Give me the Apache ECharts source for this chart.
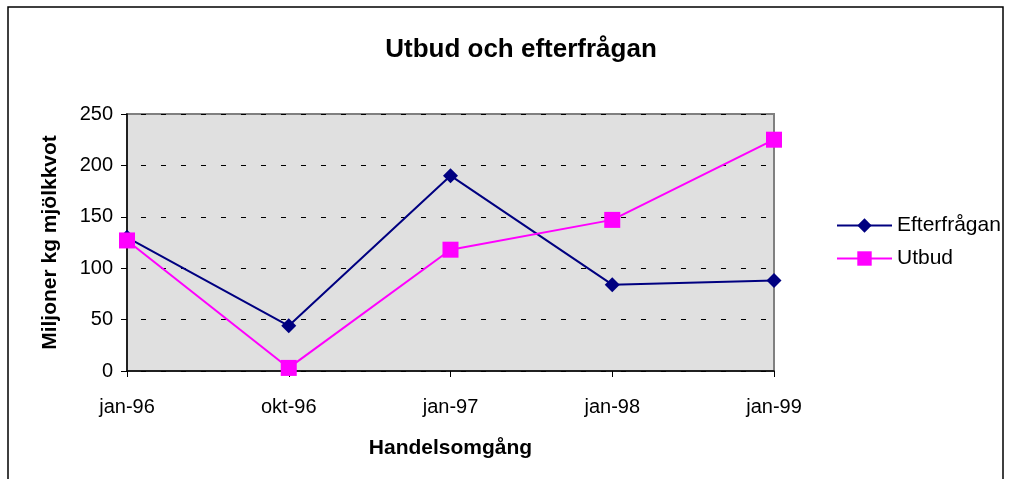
<!DOCTYPE html>
<html>
<head>
<meta charset="utf-8">
<script src="https://cdn.jsdelivr.net/npm/echarts@6/dist/echarts.min.js"></script>
<style>
  html, body { margin: 0; padding: 0; background: #fff; }
  #chart { width: 1009px; height: 479px; }
</style>
</head>
<body>
<div id="chart"></div>
<script>
// data
var categories = ['jan-96', 'okt-96', 'jan-97', 'jan-98', 'jan-99'];
var efterfragan = [130, 44, 190, 84, 88];
var utbud = [127, 3, 118, 147, 225];
var yTicks = [0, 50, 100, 150, 200, 250];

(function () {
    var myChart = echarts.init(document.getElementById('chart'));
    var font = 'Liberation Sans, Arial, sans-serif';
    var option = {
        animation: false,
        textStyle: { fontFamily: font },
        title: {
            text: 'Utbud och efterfrågan',
            left: 516,
            top: 32,
            textAlign: 'center',
            textStyle: { fontSize: 26, fontWeight: 'bold', color: '#000', fontFamily: font }
        },
        // yttre ram
        graphic: [{
            type: 'rect',
            shape: { x: 8, y: 7, width: 995, height: 490 },
            style: { fill: 'none', stroke: '#000', lineWidth: 1.5 },
            silent: true
        }],
        legend: {
            orient: 'vertical',
            left: 831,
            top: 210,
            itemWidth: 55,
            itemHeight: 18,
            itemGap: 12,
            lineStyle: { width: 2 },
            textStyle: { fontSize: 21, color: '#000', fontFamily: font },
            data: ['Efterfrågan', 'Utbud']
        },
        grid: {
            left: 127,
            right: 235,
            top: 114,
            bottom: 108,
            show: true,
            backgroundColor: '#e0e0e0',
            borderColor: '#808080',
            borderWidth: 2
        },
        xAxis: {
            type: 'category',
            data: categories,
            boundaryGap: false,
            name: 'Handelsomgång',
            nameLocation: 'middle',
            nameGap: 67,
            nameTextStyle: { fontSize: 21, fontWeight: 'bold', color: '#000' },
            axisLine: { lineStyle: { color: '#000', width: 1.5 } },
            axisTick: { show: true, length: 6, lineStyle: { color: '#000' } },
            axisLabel: { fontSize: 20, color: '#000', margin: 26 },
            splitLine: { show: false }
        },
        yAxis: {
            type: 'value',
            min: yTicks[0],
            max: yTicks[yTicks.length - 1],
            interval: 50,
            name: 'Miljoner kg mjölkkvot',
            nameLocation: 'middle',
            nameGap: 66,
            nameRotate: 90,
            nameTextStyle: { fontSize: 21, fontWeight: 'bold', color: '#000' },
            axisLine: { show: true, lineStyle: { color: '#000', width: 1.5 } },
            axisTick: { show: true, length: 6, lineStyle: { color: '#000' } },
            axisLabel: { fontSize: 20, color: '#000', margin: 14 },
            splitLine: {
                show: true,
                lineStyle: { color: '#000', type: [5, 15], dashOffset: -14, width: 1 }
            }
        },
        series: [
            {
                name: 'Efterfrågan',
                type: 'line',
                data: efterfragan,
                color: '#000080',
                symbol: 'diamond',
                symbolSize: 15,
                lineStyle: { width: 2, color: '#000080' },
                itemStyle: { color: '#000080' },
                z: 3
            },
            {
                name: 'Utbud',
                type: 'line',
                data: utbud,
                color: '#ff00ff',
                symbol: 'rect',
                symbolSize: 16,
                lineStyle: { width: 2, color: '#ff00ff' },
                itemStyle: { color: '#ff00ff' },
                z: 4
            }
        ]
    };
    myChart.setOption(option);
    window.addEventListener('resize', function () {
        myChart.resize();
    });
})();
</script>
</body>
</html>
